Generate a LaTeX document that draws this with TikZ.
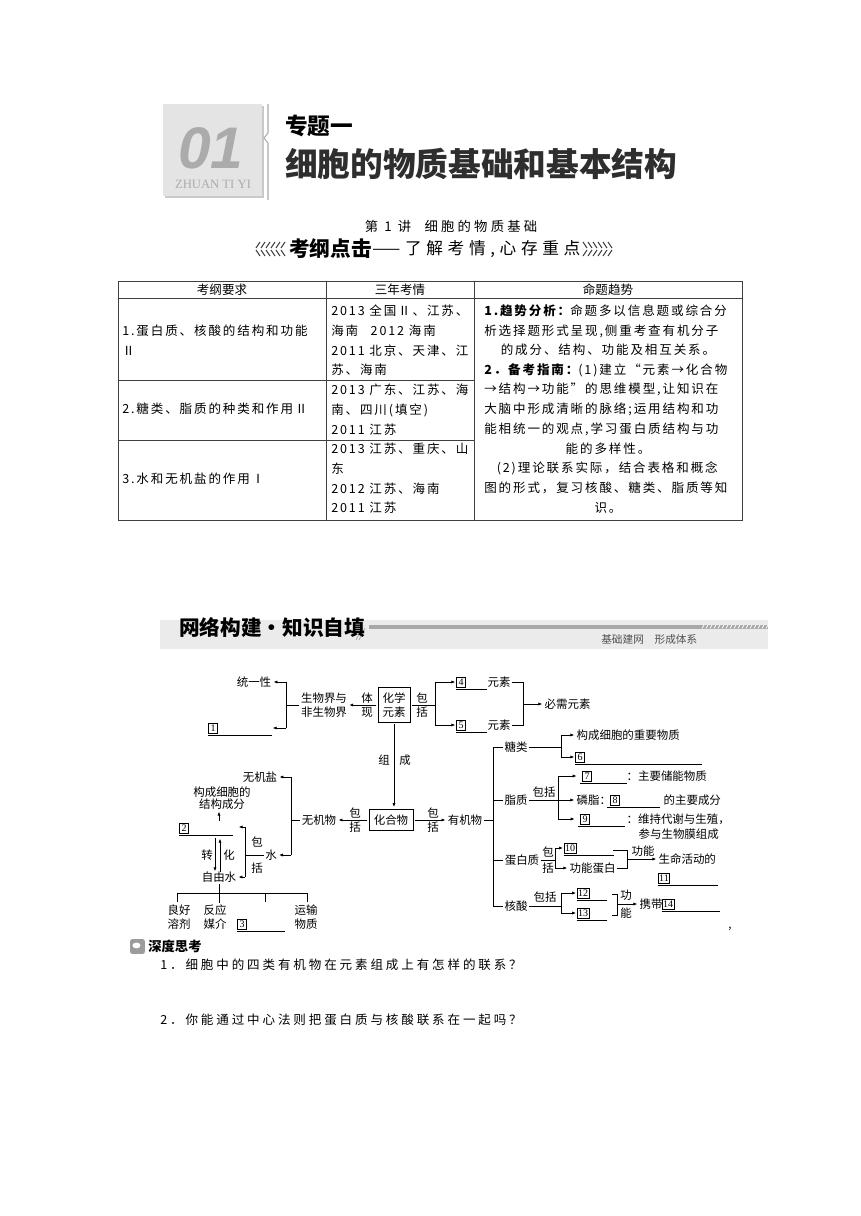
\documentclass[tikz,border=0pt]{standalone}
\usepackage{fontspec}
\setmainfont{Noto Sans CJK SC}
\newfontfamily\numfont{Liberation Serif}
\newfontfamily\topicnumfont{Liberation Sans}
\usetikzlibrary{arrows.meta,positioning}
\definecolor{TopicPale}{HTML}{E4E4E4}
\definecolor{TopicShade}{HTML}{C9C9C9}
\definecolor{TopicNum}{HTML}{ABABAB}
\definecolor{TitleInk}{HTML}{2E2E2E}
\definecolor{BarPale}{HTML}{EBEBEB}
\definecolor{BarDark}{HTML}{A8A8A8}
\definecolor{RuleInk}{HTML}{404040}
\definecolor{NoteInk}{HTML}{505050}
\definecolor{IconGray}{HTML}{9C9C9C}
\newcommand{\tabtext}{\fontsize{9.4}{14.8}\selectfont\addfontfeature{LetterSpace=15}}
\newcommand{\asktext}{\fontsize{9.4}{14.8}\selectfont\addfontfeature{LetterSpace=23}}
\newcommand{\maptxt}{\fontsize{8.6}{10.5}\selectfont}
\tikzset{
  >=Latex,
  maptext/.style={inner sep=0pt,outer sep=1.2pt,font=\maptxt},
  mapstack/.style={maptext,align=center},
  mapbox/.style={maptext,draw,line width=0.6pt,align=center,inner sep=2pt},
  numbox/.style={draw,line width=0.5pt,inner sep=0.7pt,minimum width=7pt,minimum height=7.5pt,
    font=\numfont\fontsize{7.5}{8}\selectfont},
  wire/.style={line width=0.6pt},
  arrowwire/.style={wire,-{Latex[length=3pt,width=2.4pt]},shorten >=0.5pt},
  blankline/.style={line width=0.5pt},
  celltext/.style={inner sep=0pt,anchor=west,align=left,font=\tabtext},
  cellmid/.style={inner sep=0pt,align=center,font=\tabtext},
  cellhead/.style={inner sep=0pt,font=\fontsize{9.4}{11}\selectfont},
  asknote/.style={inner sep=0pt,anchor=west,font=\asktext},
  tablerule/.style={line width=0.6pt,draw=RuleInk},
  deco/.style={line width=0.8pt,draw=black!75},
  iconbox/.style={fill=IconGray,rounded corners=1.5pt,minimum size=11pt,inner sep=0pt}
}
\begin{document}
\begin{tikzpicture}[x=0.75pt,y=-0.75pt]
  \fill[white] (0,0) rectangle (860,1216);
  \useasboundingbox (0,0) rectangle (860,1216);

  % topic header
  \fill[TopicShade] (165,106) rectangle (264,198);
  \fill[TopicPale] (163,104) rectangle (262,196);
  \node[font=\topicnumfont\bfseries\itshape\fontsize{44}{44}\selectfont,text=TopicNum,inner sep=0pt] (topicnum) at (211,148) {01};
  \node[font=\numfont\fontsize{9.5}{10}\selectfont,text=TopicNum,inner sep=0pt] (topicpin) at (213,184) {ZHUAN TI YI};
  \draw[TopicNum,line width=0.8pt] (268,104) -- (268,133) -- (264,138) -- (268,143) -- (268,200);
  \node[anchor=west,font=\bfseries\fontsize{17}{17}\selectfont,inner sep=0pt] (topic) at (285,126) {专题一};
  \node[anchor=west,font=\bfseries\fontsize{24.5}{25}\selectfont,text=TitleInk,inner sep=0pt] (title) at (285,164) {细胞的物质基础和基本结构};
  \node[font=\fontsize{10}{10}\selectfont\addfontfeature{LetterSpace=24},inner sep=0pt] (lecture) at (451,226) {第 1 讲\quad 细胞的物质基础};

  \node[anchor=west,font=\bfseries\fontsize{15.5}{16}\selectfont,inner sep=0pt] (kgtitle) at (289,249) {考纲点击};
  \node[right=0pt of kgtitle,font=\fontsize{12.5}{13}\selectfont\addfontfeature{LetterSpace=28},inner sep=0pt] (kgsub) {——了解考情,心存重点};
  \foreach \i in {0,...,5} {
    \draw[deco] ({256+5*\i},248) -- ++(4,-6);
    \draw[deco] ({256+5*\i},250) -- ++(4,6);
    \draw[deco] ({583+5*\i},242) -- ++(4,6);
    \draw[deco] ({583+5*\i},256) -- ++(4,-6);
  }

  % table
  \draw[tablerule] (118,281) rectangle (742,520);
  \draw[tablerule] (326,281) -- (326,520);
  \draw[tablerule] (474,281) -- (474,520);
  \draw[tablerule] (118,298) -- (742,298);
  \draw[tablerule] (118,380) -- (474,380);
  \draw[tablerule] (118,440) -- (474,440);
  \node[cellhead] (headreq) at (222,290) {考纲要求};
  \node[cellhead] (headexam) at (400,290) {三年考情};
  \node[cellhead] (headtrend) at (608,290) {命题趋势};

  \node[celltext] (req1) at (122,340.5) {1.蛋白质、核酸的结构和功能\\Ⅱ};
  \node[celltext] (req2) at (122,409) {2.糖类、脂质的种类和作用Ⅱ};
  \node[celltext] (req3) at (122,479) {3.水和无机盐的作用Ⅰ};

  \node[celltext] (exam1) at (331,340.5) {2013 全国Ⅱ、江苏、\\海南\quad 2012 海南\\2011 北京、天津、江\\苏、海南};
  \node[celltext] (exam2) at (331,409.5) {2013 广东、江苏、海\\南、四川(填空)\\2011 江苏};
  \node[celltext] (exam3) at (331,478.5) {2013 江苏、重庆、山\\东\\2012 江苏、海南\\2011 江苏};

  \node[celltext] (trend1) at (484,321) {{\bfseries 1.趋势分析：}命题多以信息题或综合分\\析选择题形式呈现,侧重考查有机分子};
  \node[cellmid] (trend2) at (608,350) {的成分、结构、功能及相互关系。};
  \node[celltext] (trend3) at (484,399.5) {{\bfseries 2．备考指南：}(1)建立“元素→化合物\\→结构→功能”的思维模型,让知识在\\大脑中形成清晰的脉络;运用结构和功\\能相统一的观点,学习蛋白质结构与功};
  \node[cellmid] (trend4) at (608,449) {能的多样性。};
  \node[celltext] (trend5) at (484,478) {\hspace*{1em}(2)理论联系实际，结合表格和概念\\图的形式，复习核酸、糖类、脂质等知};
  \node[cellmid] (trend6) at (608,508) {识。};

  % banner
  \fill[BarPale] (160,620) rectangle (768,649);
  \fill[BarDark] (369,625) rectangle (768,628.5);
  \foreach \i in {0,...,16}
    \draw[white,line width=0.6pt] ({702+4*\i},628.5) -- ++(2,-3.5);
  \draw[BarDark,line width=0.6pt] (356,640) -- (362,628);
  \draw[BarDark,line width=0.6pt] (359,640) -- (365,628);
  \node[anchor=west,font=\bfseries\fontsize{15.5}{15.5}\selectfont,inner sep=0pt] (netbanner) at (179,628) {网络构建·知识自填};
  \node[anchor=west,font=\fontsize{8}{8}\selectfont,text=NoteInk,inner sep=0pt] (netsub) at (601,639) {基础建网\quad 形成体系};

  % map: elements
  \node[maptext] (unity) at (254,682) {统一性};
  \node[numbox] (n1) at (213,728) {1};
  \draw[blankline] ([yshift=-1.5pt]n1.south west) -- ++(64,0);
  \node[mapstack] (bioworld) at (324,705) {生物界与\\非生物界};
  \node[mapstack] (embody) at (367,705) {体\\现};
  \node[mapbox,minimum width=24pt,minimum height=26pt] (chemel) at (394,705) {化学\\元素};
  \node[mapstack] (incl1) at (422,705) {包\\括};
  \coordinate (lbrT) at (286,682);
  \coordinate (lbrM) at (286,705);
  \coordinate (lbrB) at (286,728);
  \coordinate (n1end) at (272,728);
  \draw[wire] (lbrT) -- (lbrB);
  \draw[wire] (bioworld) -- (lbrM);
  \draw[arrowwire] (lbrT) -- (unity);
  \draw[arrowwire] (lbrB) -- (n1end);
  \draw[arrowwire] (chemel) -- (bioworld);

  \coordinate (rbrT) at (435,682);
  \coordinate (rbrM) at (435,705);
  \coordinate (rbrB) at (435,725);
  \draw[wire] (chemel) -- (rbrM);
  \draw[wire] (rbrT) -- (rbrB);
  \node[numbox] (n4) at (461,682) {4};
  \node[numbox] (n5) at (461,725) {5};
  \draw[arrowwire] (rbrT) -- (n4);
  \draw[arrowwire] (rbrB) -- (n5);
  \draw[blankline] ([yshift=-1.5pt]n4.south west) -- ++(31,0);
  \draw[blankline] ([yshift=-1.5pt]n5.south west) -- ++(31,0);
  \node[maptext] (elem4) at (499,682) {元素};
  \node[maptext] (elem5) at (499,725) {元素};
  \coordinate (ebrT) at (523,682);
  \coordinate (ebrM) at (523,704);
  \coordinate (ebrB) at (523,725);
  \draw[wire] (elem4) -- (ebrT) -- (ebrB) -- (elem5);
  \node[maptext,anchor=west] (essential) at (543,704) {必需元素};
  \draw[arrowwire] (ebrM) -- (essential);

  % map: compounds
  \node[mapbox,minimum width=33pt,minimum height=16pt] (compound) at (391,820) {化合物};
  \draw[arrowwire] (chemel.south) -- (chemel.south |- compound.north);
  \node[maptext] (makeup1) at (384,760) {组};
  \node[maptext] (makeup2) at (405,760) {成};
  \node[mapstack] (incl2) at (355,820) {包\\括};
  \node[mapstack] (incl3) at (433,820) {包\\括};
  \node[maptext] (inorg) at (319,820) {无机物};
  \node[maptext] (org) at (465,820) {有机物};
  \draw[arrowwire] (compound) -- (inorg);
  \draw[arrowwire] (compound) -- (org);

  % map: inorganic side
  \coordinate (ibrT) at (291,777);
  \coordinate (ibrM) at (291,820);
  \coordinate (ibrB) at (291,855);
  \draw[wire] (ibrT) -- (ibrB);
  \draw[wire] (inorg) -- (ibrM);
  \node[maptext] (salt) at (260,777) {无机盐};
  \node[maptext] (water) at (271,855) {水};
  \draw[arrowwire] (ibrT) -- (salt);
  \draw[arrowwire] (ibrB) -- (water);
  \node[mapstack,font=\fontsize{8.6}{9}\selectfont] (struct) at (222,798) {构成细胞的\\结构成分};
  \node[numbox] (n2) at (184,828) {2};
  \draw[blankline] ([yshift=-1.5pt]n2.south west) -- ++(54,0);
  \coordinate (upfoot) at (219,821);
  \draw[arrowwire] (upfoot) -- (upfoot |- struct.south);

  \coordinate (wbrT) at (245,827);
  \coordinate (wbrM) at (245,855);
  \coordinate (wbrB) at (245,877);
  \coordinate (n2tip) at (238,827);
  \draw[wire] (wbrT) -- (wbrB);
  \draw[wire] (water) -- (wbrM);
  \draw[arrowwire] (wbrT) -- (n2tip);
  \node[maptext] (freewater) at (219,877) {自由水};
  \draw[arrowwire] (wbrB) -- (freewater);
  \node[maptext] (incl4a) at (257,842) {包};
  \node[maptext] (incl4b) at (257,868) {括};
  \node[maptext] (conv1) at (207,855) {转};
  \node[maptext] (conv2) at (229,855) {化};
  \coordinate (cvDownT) at (215,838);
  \coordinate (cvDownB) at (215,872);
  \coordinate (cvUpT) at (220,838);
  \coordinate (cvUpB) at (220,872);
  \draw[arrowwire] (cvDownT) -- (cvDownB);
  \draw[arrowwire] (cvUpB) -- (cvUpT);

  \coordinate (treeL) at (177,893);
  \coordinate (treeM) at (265,893);
  \coordinate (treeR) at (307,893);
  \draw[wire] (treeL) -- (treeR);
  \draw[wire] (freewater.south) -- ++(0,19);
  \draw[wire] (treeL) -- ++(0,9);
  \draw[wire] (treeM) -- ++(0,9);
  \draw[wire] (treeR) -- ++(0,9);
  \node[mapstack] (solvent) at (179,917) {良好\\溶剂};
  \node[mapstack] (medium) at (215,917) {反应\\媒介};
  \node[numbox] (n3) at (242,924) {3};
  \draw[blankline] ([yshift=-1.5pt]n3.south west) -- ++(48,0);
  \node[mapstack] (transport) at (306,917) {运输\\物质};

  % map: organic side
  \coordinate (obrT) at (493,747);
  \coordinate (obrM) at (493,820);
  \coordinate (obrL) at (493,800);
  \coordinate (obrP) at (493,860);
  \coordinate (obrB) at (493,906);
  \draw[wire] (org) -- (obrM);
  \draw[wire] (obrT) -- (obrB);
  \node[maptext] (sugar) at (516,747) {糖类};
  \node[maptext] (lipid) at (516,800) {脂质};
  \node[maptext] (protein) at (522,860) {蛋白质};
  \node[maptext] (nucleic) at (516,906) {核酸};
  \draw[wire] (obrT) -- (sugar);
  \draw[wire] (obrL) -- (lipid);
  \draw[wire] (obrP) -- (protein);
  \draw[wire] (obrB) -- (nucleic);

  \coordinate (sbrT) at (561,735);
  \coordinate (sbrM) at (561,747);
  \coordinate (sbrB) at (561,757);
  \draw[wire] (sugar) -- (sbrM);
  \draw[wire] (sbrT) -- (sbrB);
  \node[maptext,anchor=west] (sugrole) at (575,735) {构成细胞的重要物质};
  \draw[arrowwire] (sbrT) -- (sugrole);
  \node[numbox] (n6) at (580,757) {6};
  \draw[arrowwire] (sbrB) -- (n6);
  \draw[blankline] ([yshift=-1.5pt]n6.south west) -- ++(127,0);

  \coordinate (fatT) at (558,776);
  \coordinate (fatM) at (558,800);
  \coordinate (fatB) at (558,819);
  \draw[wire] (lipid) -- (fatM);
  \draw[wire] (fatT) -- (fatB);
  \node[maptext] (fatincl) at (544,792) {包括};
  \node[numbox] (n7) at (587,776) {7};
  \draw[arrowwire,shorten >=4pt] (fatT) -- (n7);
  \draw[blankline] ([xshift=-1.5pt,yshift=-1.5pt]n7.south west) -- ++(47,0);
  \node[maptext,anchor=west] (n7role) at (625,776) {：主要储能物质};
  \node[maptext,anchor=west] (phos) at (575,800) {磷脂：};
  \draw[arrowwire] (fatM) -- (phos);
  \node[numbox] (n8) at (615,800) {8};
  \draw[blankline] ([xshift=-2pt,yshift=-1.5pt]n8.south west) -- ++(53,0);
  \node[maptext,anchor=west] (n8role) at (662,800) {的主要成分};
  \node[numbox] (n9) at (585,819) {9};
  \draw[arrowwire,shorten >=4pt] (fatB) -- (n9);
  \draw[blankline] ([xshift=-1.5pt,yshift=-1.5pt]n9.south west) -- ++(47,0);
  \node[maptext,anchor=west] (n9role) at (625,819) {：维持代谢与生殖，};
  \node[maptext,anchor=west] (n9role2) at (637,834) {参与生物膜组成};

  \coordinate (protT) at (555,848);
  \coordinate (protM) at (555,860);
  \coordinate (protB) at (555,868);
  \draw[wire] (protein) -- (protM);
  \draw[wire] (protT) -- (protB);
  \node[maptext] (protincl1) at (548,852) {包};
  \node[maptext] (protincl2) at (548,868) {括};
  \node[numbox] (n10) at (570,848) {10};
  \draw[arrowwire] (protT) -- (n10);
  \draw[blankline] ([yshift=-1.5pt]n10.south west) -- ++(50,0);
  \node[maptext,anchor=west] (funcprot) at (568,868) {功能蛋白};
  \draw[arrowwire] (protB) -- (funcprot);
  \coordinate (rolT0) at (613,850);
  \coordinate (rolT) at (627,850);
  \coordinate (rolM) at (627,859);
  \coordinate (rolB) at (627,868);
  \draw[wire] (rolT0) -- (rolT) -- (rolB) -- (funcprot);
  \node[maptext,anchor=west] (life) at (657,859) {生命活动的};
  \draw[arrowwire] (rolM) -- (life);
  \node[maptext] (funclab) at (643,851) {功能};
  \node[numbox] (n11) at (664,878) {11};
  \draw[blankline] ([yshift=-1.5pt]n11.south west) -- ++(60,0);

  \coordinate (nucT) at (561,893);
  \coordinate (nucM) at (561,906);
  \coordinate (nucB) at (561,913);
  \draw[wire] (nucleic) -- (nucM);
  \draw[wire] (nucT) -- (nucB);
  \node[maptext] (nucincl) at (545,897) {包括};
  \node[numbox] (n12) at (583,893) {12};
  \node[numbox] (n13) at (583,913) {13};
  \draw[arrowwire] (nucT) -- (n12);
  \draw[arrowwire] (nucB) -- (n13);
  \draw[blankline] ([yshift=-1.5pt]n12.south west) -- ++(30,0);
  \draw[blankline] ([yshift=-1.5pt]n13.south west) -- ++(30,0);
  \coordinate (carT0) at (612,894);
  \coordinate (carT) at (617,894);
  \coordinate (carM) at (617,904);
  \coordinate (carB) at (617,915);
  \coordinate (carB0) at (612,915);
  \draw[wire] (carT0) -- (carT) -- (carB) -- (carB0);
  \node[maptext,anchor=west] (carry) at (638,904) {携带};
  \draw[arrowwire] (carM) -- (carry);
  \node[maptext] (carlab1) at (626,895) {功};
  \node[maptext] (carlab2) at (626,913) {能};
  \node[numbox] (n14) at (668,904) {14};
  \draw[blankline] ([yshift=-1.5pt]n14.south west) -- ++(58,0);
  \node[maptext] (endcomma) at (730,929) {,};

  % questions
  \node[iconbox] (thinkicon) at (137.5,946.5) {};
  \fill[white] ([xshift=-0.8pt,yshift=0.8pt]thinkicon.center) ellipse (3pt and 2.2pt);
  \node[anchor=west,font=\bfseries\fontsize{10}{10}\selectfont,inner sep=0pt] (deepthink) at (148,946) {深度思考};
  \node[asknote] (ask1) at (160,965) {1．细胞中的四类有机物在元素组成上有怎样的联系？};
  \node[asknote] (ask2) at (160,1020) {2．你能通过中心法则把蛋白质与核酸联系在一起吗？};
\end{tikzpicture}
\end{document}
